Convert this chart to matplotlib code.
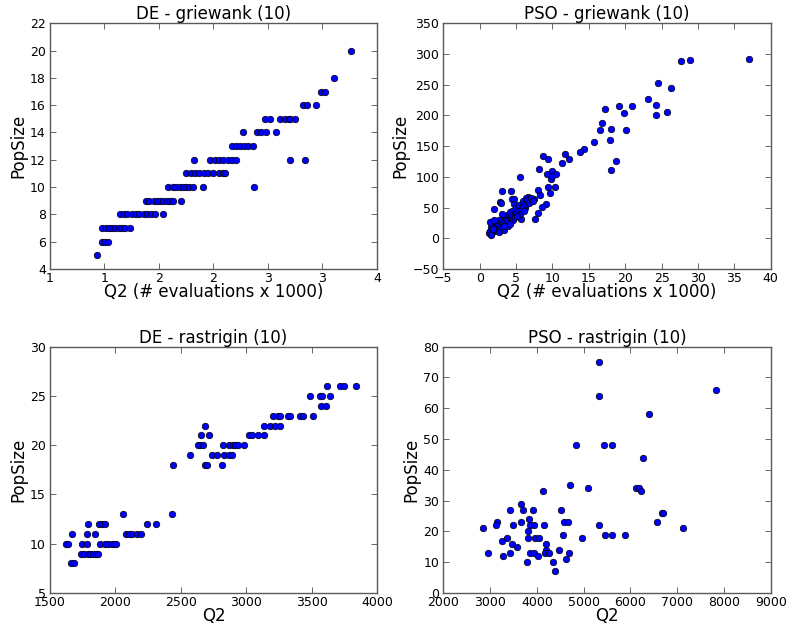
import matplotlib
matplotlib.use("Agg")
import matplotlib.pyplot as plt
from matplotlib.ticker import FuncFormatter, MultipleLocator

# ---------------- data ----------------
# DE - griewank (10): x in thousands of evaluations, y = PopSize
de_gw_x = [1.43,
           1.48, 1.505, 1.53,
           1.48, 1.51, 1.54, 1.57, 1.60, 1.63, 1.66, 1.69, 1.73,
           1.64, 1.68, 1.71, 1.75, 1.79, 1.82, 1.86, 1.89, 1.93, 1.96, 2.04,
           1.88, 1.91, 1.95, 1.98, 2.01, 2.04, 2.07, 2.10, 2.13, 2.20,
           2.08, 2.13, 2.16, 2.19, 2.22, 2.25, 2.28, 2.31, 2.40, 2.87,
           2.25, 2.29, 2.33, 2.37, 2.41, 2.45, 2.50, 2.55, 2.59, 2.61,
           2.32, 2.47, 2.51, 2.55, 2.59, 2.63, 2.67, 2.71, 3.20, 3.34,
           2.67, 2.71, 2.74, 2.78, 2.82, 2.86,
           2.77, 2.90, 2.94, 2.98, 3.07,
           2.97, 3.02, 3.11, 3.16, 3.19, 3.20, 3.25,
           3.32, 3.36, 3.44,
           3.49, 3.52,
           3.61,
           3.76]
de_gw_y = [5,
           6, 6, 6,
           7, 7, 7, 7, 7, 7, 7, 7, 7,
           8, 8, 8, 8, 8, 8, 8, 8, 8, 8, 8,
           9, 9, 9, 9, 9, 9, 9, 9, 9, 9,
           10, 10, 10, 10, 10, 10, 10, 10, 10, 10,
           11, 11, 11, 11, 11, 11, 11, 11, 11, 11,
           12, 12, 12, 12, 12, 12, 12, 12, 12, 12,
           13, 13, 13, 13, 13, 13,
           14, 14, 14, 14, 14,
           15, 15, 15, 15, 15, 15, 15,
           16, 16, 16,
           17, 17,
           18,
           20]

# PSO - griewank (10)
pso_gw_x = [37.0, 28.9, 27.7, 24.5, 26.3, 23.2, 24.3, 24.2, 25.7, 19.2,
            21.0, 17.2, 19.9, 16.8, 16.6, 18.1, 20.1, 17.9, 15.7, 14.4,
            13.8, 11.7, 12.3, 11.3, 18.7, 18.0,
            8.7, 9.4, 8.1, 5.6, 9.3, 10.0, 10.5, 9.8, 9.9, 9.4, 10.35, 9.7,
            8.0, 8.3, 3.1, 4.3, 2.8, 2.9, 2.0, 4.4, 4.7, 4.7, 6.7, 6.4,
            5.9, 7.2, 7.5, 9.1, 8.5, 8.0, 7.6, 5.7, 6.2, 5.5,
            1.3, 1.4, 1.5, 1.6, 1.7, 1.8, 1.9, 2.0, 2.1, 2.2,
            2.3, 2.4, 2.5, 2.6, 2.7, 2.8, 2.9, 3.0, 3.1, 3.2,
            3.3, 3.4, 3.5, 3.6, 3.7, 3.8, 3.9, 4.0, 4.1, 4.2,
            4.3, 4.4, 4.5, 4.6, 4.8, 4.9, 5.0, 5.2, 5.4, 5.5,
            5.8, 6.0, 6.3, 6.5, 6.8, 7.0, 7.3, 1.5, 1.4, 2.0,
            2.6, 3.4, 4.1, 3.0, 1.8, 5.1, 6.1]
pso_gw_y = [292, 290, 288, 252, 245, 227, 217, 201, 205, 216,
            215, 211, 204, 188, 176, 178, 176, 160, 157, 145,
            140, 138, 129, 122, 126, 111,
            134, 129, 113, 100, 105, 109, 105, 97, 101, 84, 84, 73,
            79, 71, 77, 77, 59, 57, 48, 64, 64, 56, 68, 65,
            61, 61, 64, 56, 51, 41, 31, 32, 49, 51,
            8, 12, 18, 26, 10, 15, 22, 12, 28, 18,
            14, 20, 24, 16, 30, 22, 26, 19, 32, 24,
            28, 14, 34, 26, 38, 30, 20, 36, 42, 26,
            33, 45, 38, 30, 40, 35, 50, 44, 54, 40,
            48, 52, 56, 62, 58, 66, 60, 5, 27, 30,
            10, 20, 24, 40, 15, 36, 45]

# DE - rastrigin (10)
de_rs_x = [3617, 3719, 3745, 3837,
           3485, 3561, 3579, 3643,
           3571, 3610,
           3204, 3242, 3260, 3316, 3332, 3413, 3431, 3510,
           2689, 3138, 3184, 3224, 3260,
           2656, 2714, 3025, 3043, 3089, 3138,
           2633, 2648, 2673, 2824, 2865, 2898, 2916, 2936, 2987,
           2569, 2735, 2776, 2827, 2870, 2890,
           2441, 2684, 2704, 2819,
           2056, 2431,
           1793, 1875, 1900, 1923, 2242, 2309,
           1666, 1783, 1842, 2082, 2105, 2130, 2168, 2194,
           1622, 1640, 1742, 1781, 1883, 1921, 1946, 1972, 1992, 2003,
           1735, 1760, 1788, 1806, 1827, 1849, 1865,
           1661, 1686]
de_rs_y = [26, 26, 26, 26,
           25, 25, 25, 25,
           24, 24,
           23, 23, 23, 23, 23, 23, 23, 23,
           22, 22, 22, 22, 22,
           21, 21, 21, 21, 21, 21,
           20, 20, 20, 20, 20, 20, 20, 20, 20,
           19, 19, 19, 19, 19, 19,
           18, 18, 18, 18,
           13, 13,
           12, 12, 12, 12, 12, 12,
           11, 11, 11, 11, 11, 11, 11, 11,
           10, 10, 10, 10, 10, 10, 10, 10, 10, 10,
           9, 9, 9, 9, 9, 9, 9,
           8, 8]

# PSO - rastrigin (10)
pso_rs_x = [5336, 5321, 7836, 6393, 4829, 5429, 5600, 6279, 4700, 5093,
            4129, 6121, 6193, 6229, 3664, 3429, 3700, 3907, 4514, 6671,
            6700, 3143, 3121, 3500, 3664, 3829, 3857, 3929, 4157, 4586,
            4671, 5329, 6579, 2857, 7121, 3814, 4557, 5464, 5614, 5879,
            3257, 3364, 3807, 3950, 4050, 4957, 3479, 3571, 4200, 4186,
            2964, 3436, 3857, 3929, 4171, 4264, 4679, 4479, 3286, 4021,
            4614, 3793, 4343, 4386]
pso_rs_y = [75, 64, 66, 58, 48, 48, 48, 44, 35, 34,
            33, 34, 34, 33, 29, 27, 27, 27, 27, 26,
            26, 23, 22, 22, 23, 24, 22, 22, 22, 23,
            23, 22, 23, 21, 21, 20, 19, 19, 19, 19,
            17, 18, 18, 18, 18, 18, 16, 15, 16, 14,
            13, 13, 13, 13, 13, 13, 13, 14, 12, 12,
            11, 10, 10, 7]

titles = ["DE - griewank (10)", "PSO - griewank (10)",
          "DE - rastrigin (10)", "PSO - rastrigin (10)"]
xlabels = ["Q2 (# evaluations x 1000)", "Q2 (# evaluations x 1000)", "Q2", "Q2"]
ylabel = "PopSize"

# ---------------- figure ----------------
plt.rcParams['font.family'] = ['DejaVu Sans']
fig = plt.figure(figsize=(7.87, 6.26), dpi=100, facecolor='white')

positions = [
    [0.0635, 0.5703, 0.4155, 0.3925],
    [0.5633, 0.5703, 0.4160, 0.3925],
    [0.0635, 0.0527, 0.4155, 0.3935],
    [0.5633, 0.0527, 0.4160, 0.3935],
]
datasets = [(de_gw_x, de_gw_y), (pso_gw_x, pso_gw_y),
            (de_rs_x, de_rs_y), (pso_rs_x, pso_rs_y)]
limits = [((1, 4), (4, 22), 0.5, 2),
          ((-5, 40), (-50, 350), 5, 50),
          ((1500, 4000), (5, 30), 500, 5),
          ((2000, 9000), (0, 80), 1000, 10)]

for i, (pos, (xs, ys), (xl, yl, xstep, ystep)) in enumerate(zip(positions, datasets, limits)):
    ax = fig.add_axes(pos)
    ax.scatter(xs, ys, s=22, c='#0000ff', edgecolors='black', linewidths=0.5, zorder=3)
    ax.set_xlim(*xl)
    ax.set_ylim(*yl)
    ax.xaxis.set_major_locator(MultipleLocator(xstep))
    ax.yaxis.set_major_locator(MultipleLocator(ystep))
    if i == 0:
        ax.xaxis.set_major_formatter(FuncFormatter(lambda v, p: "%d" % int(v)))
    ax.tick_params(direction='in', top=True, right=True, length=4, width=0.6,
                   labelsize=9, color='0.3')
    ax.tick_params(axis='x', pad=2)
    ax.tick_params(axis='y', pad=3)
    for sp in ax.spines.values():
        sp.set_color('0.35')
        sp.set_linewidth(1.0)
    ax.set_title(titles[i], fontsize=12, pad=3)
    ax.set_xlabel(xlabels[i], fontsize=12, labelpad=-1)
    ax.set_ylabel(ylabel, fontsize=12, labelpad=2)

fig.savefig("out.png", dpi=100, facecolor='white')
